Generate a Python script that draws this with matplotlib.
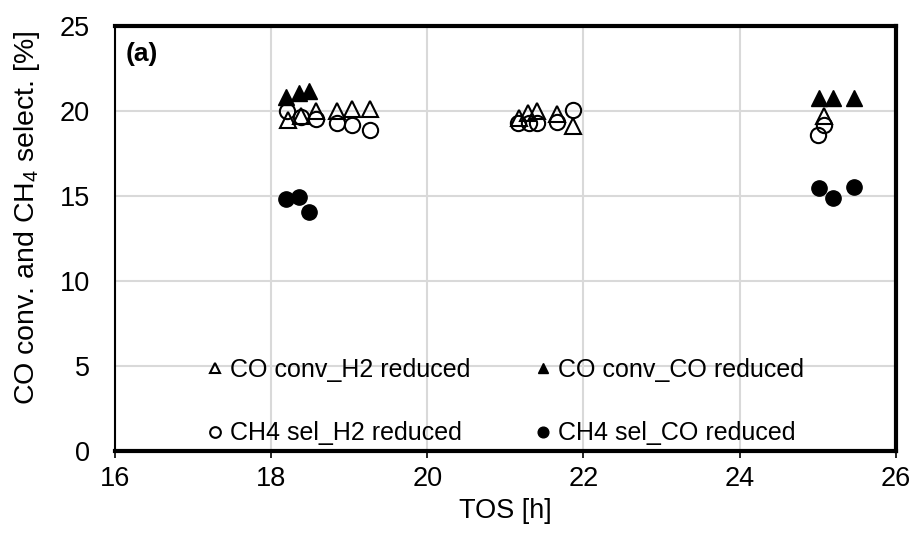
import numpy as np
import matplotlib
matplotlib.use("Agg")
import matplotlib.pyplot as plt

plt.rcParams['font.family'] = ['Liberation Sans', 'DejaVu Sans']
plt.rcParams['mathtext.fontset'] = 'custom'
plt.rcParams['mathtext.rm'] = 'Liberation Sans'
plt.rcParams['mathtext.default'] = 'regular'

# data
co_conv_h2_t = [18.21, 18.38, 18.58, 18.84, 19.03, 19.27,
                21.17, 21.29, 21.41, 21.66, 21.87, 25.08]
co_conv_h2 = [19.5, 19.7, 20.0, 20.0, 20.1, 20.1,
              19.6, 19.9, 20.0, 19.8, 19.1, 19.7]

co_conv_co_t = [18.19, 18.36, 18.48, 25.01, 25.20, 25.46]
co_conv_co = [20.85, 21.04, 21.2, 20.79, 20.79, 20.79]

ch4_sel_h2_t = [18.20, 18.38, 18.58, 18.84, 19.03, 19.27,
                21.16, 21.30, 21.41, 21.66, 21.86, 25.00, 25.08]
ch4_sel_h2 = [20.0, 19.67, 19.55, 19.3, 19.16, 18.88,
              19.3, 19.27, 19.27, 19.35, 20.06, 18.57, 19.2]

ch4_sel_co_t = [18.19, 18.36, 18.48, 25.01, 25.20, 25.46]
ch4_sel_co = [14.8, 14.94, 14.06, 15.49, 14.9, 15.53]

fig = plt.figure(figsize=(9.16, 5.42), dpi=100)
ax = fig.add_axes([0.1255, 0.168, 0.8525, 0.784])

ms = 11
ax.plot(co_conv_h2_t, co_conv_h2, ls='none', marker='^', ms=ms, mfc='none',
        mec='black', mew=1.5, label='CO conv_H2 reduced', zorder=3)
ax.plot(co_conv_co_t, co_conv_co, ls='none', marker='^', ms=ms, mfc='black',
        mec='black', label='CO conv_CO reduced', zorder=3)
ax.plot(ch4_sel_h2_t, ch4_sel_h2, ls='none', marker='o', ms=ms, mfc='none',
        mec='black', mew=1.5, label='CH4 sel_H2 reduced', zorder=3)
ax.plot(ch4_sel_co_t, ch4_sel_co, ls='none', marker='o', ms=ms, mfc='black',
        mec='black', label='CH4 sel_CO reduced', zorder=3)

ax.set_xlim(16, 26)
ax.set_ylim(0, 25)
ax.set_xticks(np.arange(16, 27, 2))
ax.set_yticks(np.arange(0, 26, 5))
ax.grid(True, color='#d9d9d9', lw=1.5)
ax.set_axisbelow(True)

for side in ['top', 'right', 'bottom']:
    ax.spines[side].set_linewidth(3)
ax.spines['left'].set_linewidth(1.5)
ax.tick_params(axis='both', labelsize=19.5, length=5, width=1.2)
ax.tick_params(axis='y', length=0, pad=18)
ax.tick_params(axis='x', pad=6)

ax.set_xlabel('TOS [h]', fontsize=19.5, labelpad=4)
ax.set_ylabel('CO conv. and CH$_4$ select. [%]', fontsize=20.5)
ax.yaxis.set_label_coords(-0.093, 0.55)
ax.text(0.014, 0.935, '(a)', transform=ax.transAxes, fontsize=19,
        fontweight='bold', va='center', ha='left')

# legend order: row-wise (H2 tri, CO tri / H2 circ, CO circ)
h, l = ax.get_legend_handles_labels()
order = [0, 2, 1, 3]
ax.legend([h[i] for i in order], [l[i] for i in order], ncol=2,
          loc='lower left', bbox_to_anchor=(0.09, -0.04), frameon=False,
          fontsize=18, markerscale=0.7, handlelength=0.6, handletextpad=0.3,
          columnspacing=2.6, labelspacing=1.58)

fig.savefig('out.png', dpi=100)
